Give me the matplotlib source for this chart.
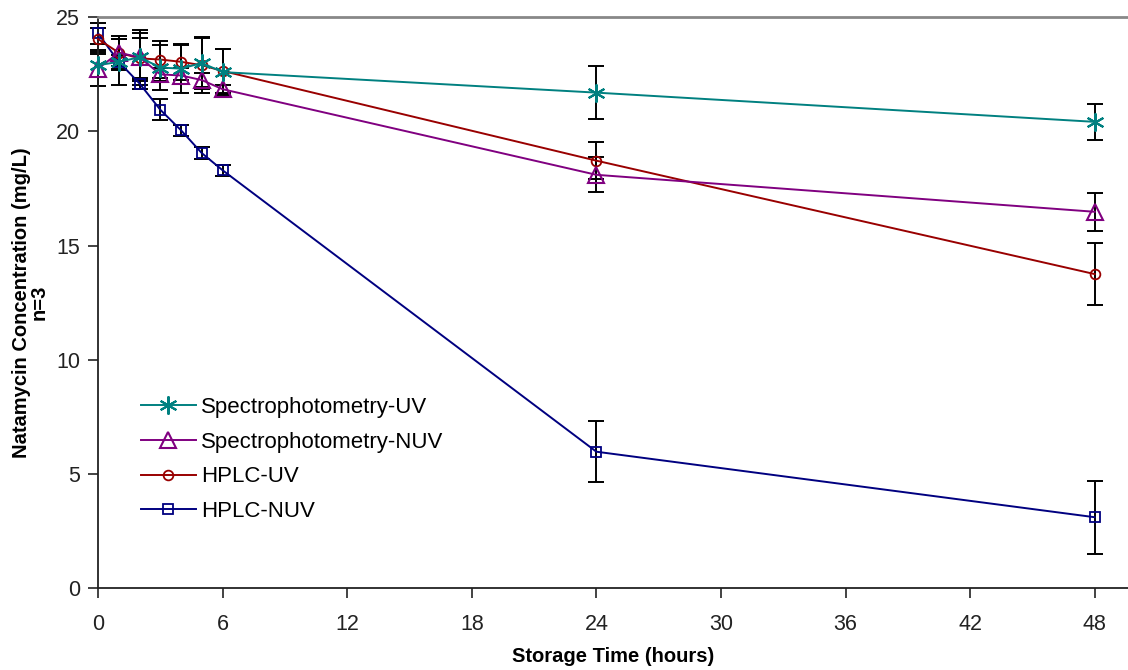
import matplotlib
matplotlib.use("Agg")
import matplotlib.pyplot as plt

plt.rcParams['font.family'] = ['Liberation Sans', 'DejaVu Sans']

hours = [0, 1, 2, 3, 4, 5, 6, 24, 48]
x_ticks = [0, 6, 12, 18, 24, 30, 36, 42, 48]
y_ticks = [0, 5, 10, 15, 20, 25]

spec_uv = [22.9, 23.05, 23.25, 22.8, 22.75, 23.0, 22.6, 21.7, 20.42]
spec_uv_err = [0.5, 1.0, 1.05, 1.0, 1.05, 1.15, 1.0, 1.16, 0.8]
spec_nuv = [22.75, 23.45, 23.25, 22.5, 22.45, 22.25, 21.85, 18.1, 16.48]
spec_nuv_err = [0.75, 0.6, 1.2, 0.3, 0.35, 0.3, 0.2, 0.77, 0.82]
hplc_uv = [24.05, 23.45, 23.2, 23.15, 23.05, 22.9, 22.65, 18.72, 13.75]
hplc_uv_err = [0.5, 0.75, 0.9, 0.8, 0.8, 1.2, 0.95, 0.8, 1.37]
hplc_nuv = [24.3, 23.05, 22.1, 20.95, 20.05, 19.05, 18.3, 5.97, 3.1]
hplc_nuv_err = [0.45, 0.3, 0.25, 0.45, 0.25, 0.25, 0.25, 1.33, 1.6]

fig = plt.figure(figsize=(11.28, 6.70), dpi=100)
ax = fig.add_axes([98/1128, 1 - 588/670, 1 - 98/1128, (588 - 17.3)/670])

series = [
    ("HPLC-NUV", hplc_nuv, hplc_nuv_err, "#000080", "s", 7, 1.3),
    ("HPLC-UV", hplc_uv, hplc_uv_err, "#990000", "o", 7, 1.3),
    ("Spectrophotometry-NUV", spec_nuv, spec_nuv_err, "#800080", "^", 12, 1.5),
    ("Spectrophotometry-UV", spec_uv, spec_uv_err, "#008080", (6, 2, 0), 13, 1.5),
]

handles = {}
for name, vals, errs, col, mk, ms, mew in series:
    eb = ax.errorbar(hours, vals, yerr=errs, fmt='none', ecolor='black',
                     elinewidth=1.4, capsize=5.5, capthick=1.4, zorder=2)
    for art in eb.lines[1] + eb.lines[2]:
        art.set_clip_on(False)
for name, vals, errs, col, mk, ms, mew in series:
    h, = ax.plot(hours, vals, color=col, lw=1.4, marker=mk, ms=ms,
                 mfc='none', mec=col, mew=mew, zorder=3, label=name, clip_on=False)
    handles[name] = h

order = ["Spectrophotometry-UV", "Spectrophotometry-NUV", "HPLC-UV", "HPLC-NUV"]
ax.legend([handles[n] for n in order], order, loc='upper left',
          bbox_to_anchor=(0.022, 0.37), frameon=False, fontsize=16,
          handlelength=2.5, handletextpad=0.2, labelspacing=0.62)

ax.set_xlim(0, 49.6)
ax.set_ylim(0, 25)
ax.set_xticks(x_ticks)
ax.set_yticks(y_ticks)
ax.tick_params(axis='both', labelsize=15.5, length=7, width=1.2, direction='out', colors='#222222')
ax.tick_params(axis='x', pad=12)
ax.tick_params(axis='y', pad=6)

ax.spines['right'].set_visible(False)
ax.spines['top'].set_color('#888888')
ax.spines['top'].set_linewidth(2)
ax.spines['left'].set_color('#222222')
ax.spines['left'].set_linewidth(1.3)
ax.spines['bottom'].set_color('#222222')
ax.spines['bottom'].set_linewidth(1.3)

ax.set_xlabel("Storage Time (hours)", fontsize=14.5, fontweight='bold', labelpad=8)
ax.set_ylabel("Natamycin Concentration (mg/L)\nn=3", fontsize=14.5, fontweight='bold',
              labelpad=5, linespacing=0.95)

fig.savefig("out.png", dpi=100)
